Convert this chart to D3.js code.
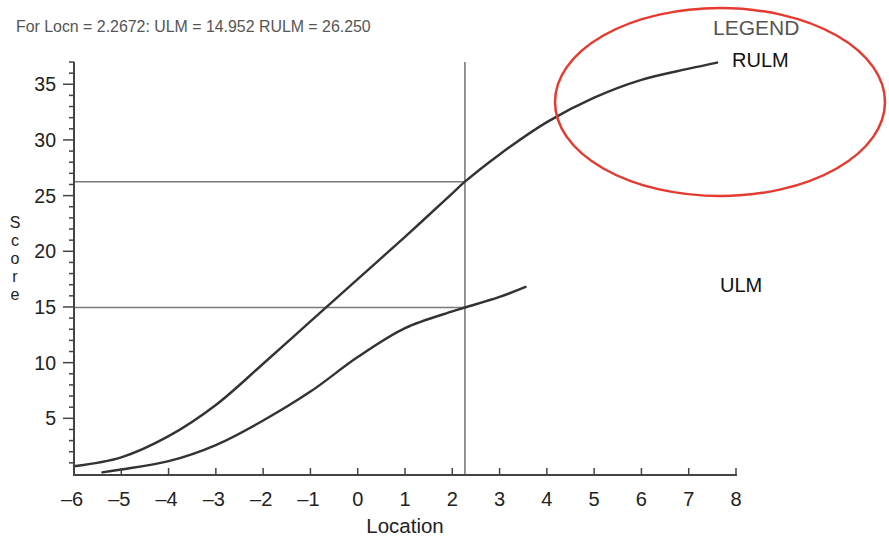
<!DOCTYPE html>
<html>
<head>
<meta charset="utf-8">
<script src="https://cdn.jsdelivr.net/npm/d3@7"></script>
<style>
  body { margin: 0; background: #fff; }
  svg { display: block; font-family: "Liberation Sans", Arial, Helvetica, sans-serif; }
</style>
</head>
<body>
<svg id="chart" width="889" height="543"></svg>
<script>
// Location grid (logits) and the two score curves
const rulmLoc = [-6.0, -5.0, -4.0, -3.0, -2.0, -1.0, 0.0, 1.0, 2.0, 2.2672, 3.0, 4.0, 5.0, 6.0, 7.0, 7.6];
const rulmScore = [0.7, 1.5, 3.4, 6.2, 9.9, 13.7, 17.5, 21.3, 25.2, 26.25, 28.7, 31.6, 33.8, 35.4, 36.4, 36.95];
const ulmLoc = [-5.4, -5.0, -4.0, -3.0, -2.0, -1.0, 0.0, 1.0, 2.0, 2.2672, 3.0, 3.55];
const ulmScore = [0.15, 0.4, 1.15, 2.6, 4.8, 7.4, 10.5, 13.1, 14.6, 14.952, 15.9, 16.8];

// Reference reading
const refLocn = 2.2672;
const refULM = 14.952;
const refRULM = 26.250;

const xTicks = [-6, -5, -4, -3, -2, -1, 0, 1, 2, 3, 4, 5, 6, 7, 8];
const yMajor = [5, 10, 15, 20, 25, 30, 35];
const yMinor = d3.range(1, 38).filter(v => v % 5 !== 0);

const svg = d3.select("#chart");
const x = d3.scaleLinear().domain([-6, 8]).range([74, 736]);
const y = d3.scaleLinear().domain([0, 37]).range([474, 62]);

const axisColor = "#444";
const refColor = "#7a7a7a";
const curveColor = "#333";

// Reference lines
svg.append("line")
  .attr("x1", x(refLocn)).attr("x2", x(refLocn))
  .attr("y1", y(37)).attr("y2", y(0))
  .attr("stroke", refColor).attr("stroke-width", 1.6);
[refULM, refRULM].forEach(v => {
  svg.append("line")
    .attr("x1", x(-6)).attr("x2", x(refLocn))
    .attr("y1", y(v)).attr("y2", y(v))
    .attr("stroke", refColor).attr("stroke-width", 1.6);
});

// Curves
const line = d3.line().curve(d3.curveCatmullRom.alpha(0.5));
function drawCurve(locs, scores) {
  svg.append("path")
    .attr("d", line(locs.map((l, i) => [x(l), y(scores[i])])))
    .attr("fill", "none")
    .attr("stroke", curveColor)
    .attr("stroke-width", 2.4)
    .attr("stroke-linecap", "round");
}
drawCurve(rulmLoc, rulmScore);
drawCurve(ulmLoc, ulmScore);

// Y axis with major and minor ticks
const yAxis = svg.append("g");
yAxis.append("line")
  .attr("x1", x(-6)).attr("x2", x(-6))
  .attr("y1", y(37)).attr("y2", y(0) + 1)
  .attr("stroke", axisColor).attr("stroke-width", 2);
yAxis.selectAll("line.minor").data(yMinor).join("line")
  .attr("class", "minor")
  .attr("x1", x(-6) - 5).attr("x2", x(-6))
  .attr("y1", d => y(d)).attr("y2", d => y(d))
  .attr("stroke", axisColor).attr("stroke-width", 1.5);
yAxis.selectAll("line.major").data(yMajor).join("line")
  .attr("class", "major")
  .attr("x1", x(-6) - 11).attr("x2", x(-6))
  .attr("y1", d => y(d)).attr("y2", d => y(d))
  .attr("stroke", axisColor).attr("stroke-width", 1.5);
yAxis.selectAll("text").data(yMajor).join("text")
  .attr("x", 56).attr("y", d => y(d) + 7)
  .attr("text-anchor", "end")
  .attr("font-size", 19.5).attr("fill", "#222")
  .text(d => d);

// X axis with ticks pointing up
const xAxis = svg.append("g");
xAxis.append("line")
  .attr("x1", x(-6) - 1).attr("x2", x(8) + 1)
  .attr("y1", y(0) + 1).attr("y2", y(0) + 1)
  .attr("stroke", axisColor).attr("stroke-width", 2.2);
xAxis.selectAll("line.tick").data(xTicks).join("line")
  .attr("class", "tick")
  .attr("x1", d => x(d)).attr("x2", d => x(d))
  .attr("y1", y(0) + 1).attr("y2", y(0) - 6)
  .attr("stroke", axisColor).attr("stroke-width", 1.5);
xAxis.selectAll("text").data(xTicks).join("text")
  .attr("x", d => x(d) - (d < 0 ? 2 : 0)).attr("y", 506)
  .attr("text-anchor", "middle")
  .attr("font-size", 20).attr("fill", "#222")
  .text(d => d < 0 ? "\u2013" + Math.abs(d) : d);

// Axis titles
svg.append("text")
  .attr("x", x(1)).attr("y", 533)
  .attr("text-anchor", "middle")
  .attr("font-size", 20.5).attr("fill", "#222")
  .text("Location");

// Vertical title, one letter per row
const yTitle = svg.append("g")
  .attr("font-size", 16).attr("fill", "#222")
  .attr("text-anchor", "middle");
"Score".split("").forEach((ch, i) => {
  yTitle.append("text")
    .attr("x", 15).attr("y", 228 + i * 18)
    .text(ch);
});

// Header reading
svg.append("text")
  .attr("x", 16).attr("y", 32)
  .attr("font-size", 15.9).attr("fill", "#555")
  .text(`For Locn = ${refLocn.toFixed(4)}: ULM = ${refULM.toFixed(3)} RULM = ${refRULM.toFixed(3)}`);

// Legend labels
svg.append("text")
  .attr("x", 713).attr("y", 35)
  .attr("font-size", 21).attr("fill", "#555")
  .text("LEGEND");
svg.append("text")
  .attr("x", 732).attr("y", 67)
  .attr("font-size", 20).attr("fill", "#111")
  .text("RULM");
svg.append("text")
  .attr("x", 720).attr("y", 292)
  .attr("font-size", 20).attr("fill", "#111")
  .text("ULM");

// Highlight ring round the legend corner
svg.append("ellipse")
  .attr("cx", 720).attr("cy", 102)
  .attr("rx", 165).attr("ry", 94)
  .attr("fill", "none")
  .attr("stroke", "#e53a2f")
  .attr("stroke-width", 2.5);
</script>
</body>
</html>
